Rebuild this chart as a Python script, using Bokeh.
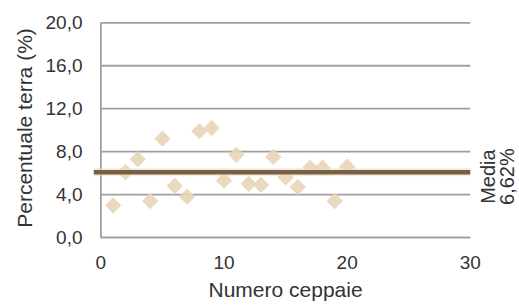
import numpy as np
from bokeh.plotting import figure
from bokeh.models import FixedTicker, Label, Range1d, Title
from bokeh.embed import file_html
from bokeh.resources import INLINE

# data
ceppaie = [1, 2, 3, 4, 5, 6, 7, 8, 9, 10, 11, 12, 13, 14, 15, 16, 17, 18, 19, 20]
terra = [3.0, 6.1, 7.3, 3.4, 9.2, 4.8, 3.8, 9.9, 10.2, 5.3, 7.7, 5.0, 4.9, 7.5,
         5.6, 4.7, 6.5, 6.5, 3.4, 6.6]
y_ticks = [0, 4, 8, 12, 16, 20]
y_tick_labels = ["0,0", "4,0", "8,0", "12,0", "16,0", "20,0"]
x_ticks = [0, 10, 20, 30]
media_label = ["Media", "6,62%"]
media = float(np.mean(terra))

TXT = "#333333"
GRID = "#a0a0a0"
FONT = "Liberation Sans"

xr = Range1d(-0.6, 34.0)
p = figure(width=519, height=306, output_backend="svg", toolbar_location=None,
           x_range=xr, y_range=Range1d(0, 20.4),
           min_border_left=93, min_border_right=0, min_border_top=18,
           min_border_bottom=69)
p.outline_line_color = None
p.xgrid.grid_line_color = None
p.ygrid.grid_line_color = None

# horizontal grid lines from x=0 to x=30
gy = y_ticks[1:]
p.segment(x0=[x_ticks[0]] * len(gy), x1=[x_ticks[-1]] * len(gy), y0=gy, y1=gy,
          line_color=GRID, line_width=1.8)
# vertical axis line at x=0
p.segment(x0=[x_ticks[0]], x1=[x_ticks[0]], y0=[y_ticks[0]], y1=[y_ticks[-1]],
          line_color=GRID, line_width=1.8)

# points
p.scatter(ceppaie, terra, marker="square", angle=np.pi / 4, size=11.5,
          fill_color="#e8d5b7", fill_alpha=0.9, line_color=None)

# mean line (from the left edge of the plot to x=30)
p.segment(x0=[xr.start], x1=[x_ticks[-1]], y0=[media], y1=[media],
          line_color="#f3dcbc", line_width=8, line_alpha=0.6)
p.segment(x0=[xr.start], x1=[x_ticks[-1]], y0=[media], y1=[media],
          line_color="#76604a", line_width=4.5)

# axes
p.xaxis.ticker = FixedTicker(ticks=x_ticks)
p.xaxis.bounds = (x_ticks[0], x_ticks[-1])
p.xaxis.axis_line_color = GRID
p.xaxis.axis_line_width = 1.8
p.xaxis.major_tick_line_color = None
p.xaxis.minor_tick_line_color = None
p.xaxis.major_tick_out = 0
p.xaxis.major_label_standoff = 18

p.yaxis.ticker = FixedTicker(ticks=y_ticks)
p.yaxis.major_label_overrides = {t: l for t, l in zip(y_ticks, y_tick_labels)}
p.yaxis.axis_line_color = None
p.yaxis.major_tick_line_color = None
p.yaxis.minor_tick_line_color = None
p.yaxis.major_tick_out = 0
p.yaxis.major_label_standoff = 11
p.yaxis.axis_label = "Percentuale terra (%)"
p.yaxis.axis_label_standoff = 7

for ax in (p.xaxis[0], p.yaxis[0]):
    ax.major_label_text_font = FONT
    ax.major_label_text_font_size = "19px"
    ax.major_label_text_color = TXT
    ax.axis_label_text_font = FONT
    ax.axis_label_text_font_size = "21px"
    ax.axis_label_text_font_style = "normal"
    ax.axis_label_text_color = TXT

# x axis title, centred under the 0-30 span
p.add_layout(Title(text="Numero ceppaie", align="left", offset=115,
                   text_font=FONT, text_font_size="21px",
                   text_font_style="normal", text_color=TXT, standoff=9),
             "below")

# media label (rotated), placed just right of the plotted area
for i, txt in enumerate(media_label):
    p.add_layout(Label(x=31.45 + 1.55 * i, y=media - 0.4, x_units="data",
                       y_units="data", text=txt, angle=np.pi / 2,
                       text_align="center", text_baseline="middle",
                       text_font=FONT, text_font_size="20px", text_color=TXT))

open("out.html", "w").write(file_html(p, INLINE))
